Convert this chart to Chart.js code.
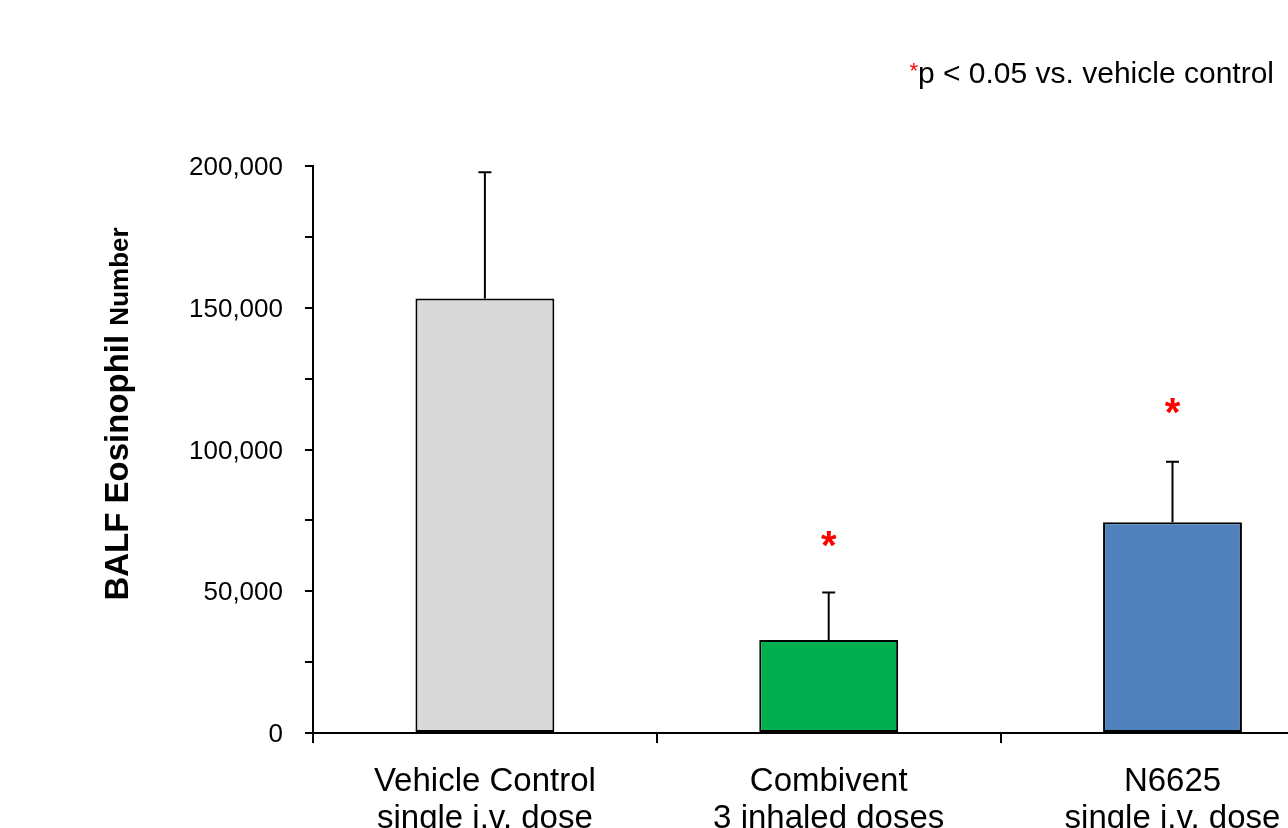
<!DOCTYPE html>
<html><head><meta charset="utf-8">
<script src="https://cdn.jsdelivr.net/npm/chart.js@4.4.1/dist/chart.umd.min.js"></script>
<style>
html,body{margin:0;padding:0;overflow:hidden;background:#fff;width:1288px;height:828px}
#wrap{position:absolute;left:0;top:0;width:1400px;height:900px}
</style></head><body>
<div id="wrap"><canvas id="c" width="1400" height="900"></canvas></div>
<script>
// ---- data ----
const categories = [["Vehicle Control","single i.v. dose"],["Combivent","3 inhaled doses"],["N6625","single i.v. dose"]];
const means = [153300, 32800, 74300];
const errUpper = [197800, 49600, 95700];
const starValues = [null, 68400, 115200];
const barColors = ['#D9D9D9','#00B050','#4F81BD'];
const yMin = 0, yMax = 200000, yStep = 25000, yLabelStep = 50000;
const yTitleMain = 'BALF Eosinophil';
const yTitleTail = 'Number';
const noteStar = '*';
const noteText = 'p < 0.05 vs. vehicle control';

const SANS = "'Liberation Sans', Arial, sans-serif";

const extras = {
  id: 'extras',
  afterDatasetsDraw(chart) {
    const ctx = chart.ctx, x = chart.scales.x, y = chart.scales.y;
    ctx.save();
    // error bars
    ctx.strokeStyle = '#000'; ctx.lineWidth = 2;
    errUpper.forEach((v, i) => {
      const cx = x.getPixelForValue(i);
      const y0 = y.getPixelForValue(means[i]);
      const y1 = y.getPixelForValue(v);
      ctx.beginPath();
      ctx.moveTo(cx, y0); ctx.lineTo(cx, y1);
      ctx.moveTo(cx - 6.5, y1); ctx.lineTo(cx + 6.5, y1);
      ctx.stroke();
    });
    // significance stars
    ctx.fillStyle = '#FF0000';
    ctx.font = 'bold 40px ' + SANS;
    ctx.textAlign = 'center'; ctx.textBaseline = 'alphabetic';
    const m = ctx.measureText('*');
    const mid = (m.actualBoundingBoxAscent - m.actualBoundingBoxDescent) / 2;
    starValues.forEach((v, i) => {
      if (v == null) return;
      ctx.fillText('*', x.getPixelForValue(i), y.getPixelForValue(v) + mid);
    });
    ctx.restore();
  },
  afterDraw(chart) {
    const ctx = chart.ctx;
    ctx.save();
    // y title
    ctx.translate(128, 414);
    ctx.rotate(-Math.PI / 2);
    ctx.fillStyle = '#000';
    ctx.textBaseline = 'alphabetic'; ctx.textAlign = 'left';
    const f1 = 'bold 33px ' + SANS, f2 = 'bold 26px ' + SANS;
    ctx.font = f1; const w1 = ctx.measureText(yTitleMain + ' ').width;
    ctx.font = f2; const w2 = ctx.measureText(yTitleTail).width;
    let sx = -(w1 + w2) / 2;
    ctx.font = f1; ctx.fillText(yTitleMain + ' ', sx, 0);
    ctx.font = f2; ctx.fillText(yTitleTail, sx + w1, 0);
    ctx.restore();
    // note
    ctx.save();
    ctx.font = '30px ' + SANS;
    ctx.fillStyle = '#000'; ctx.textAlign = 'right'; ctx.textBaseline = 'alphabetic';
    const tw = ctx.measureText(noteText).width;
    ctx.fillText(noteText, 1274, 83);
    ctx.fillStyle = '#FF0000';
    ctx.font = '22px ' + SANS;
    ctx.fillText(noteStar, 1274 - tw, 78);
    ctx.restore();
  }
};

new Chart(document.getElementById('c'), {
  type: 'bar',
  data: {
    labels: categories,
    datasets: [{
      data: means,
      backgroundColor: barColors,
      borderColor: '#000',
      borderWidth: 2,
      borderSkipped: false,
      barPercentage: 0.404,
      categoryPercentage: 1
    }]
  },
  options: {
    responsive: false,
    animation: false,
    layout: { padding: { top: 166, right: 55.6, left: 0, bottom: 0 } },
    plugins: { legend: { display: false }, tooltip: { enabled: false } },
    scales: {
      x: {
        offset: true,
        grid: { offset: true, drawOnChartArea: false, drawTicks: true, tickLength: 10, color: '#000', lineWidth: 2 },
        border: { display: true, color: '#000', width: 2 },
        ticks: { color: '#000', padding: 20, maxRotation: 0, autoSkip: false,
                 font: { family: SANS, size: 33, lineHeight: 1.13 } },
        afterFit(s) { s.height = 167; }
      },
      y: {
        min: yMin, max: yMax,
        grid: { drawOnChartArea: false, drawTicks: true, tickLength: 8, color: '#000', lineWidth: 2 },
        border: { display: true, color: '#000', width: 2 },
        ticks: { stepSize: yStep, color: '#000', padding: 22, labelOffset: 2,
                 font: { family: SANS, size: 26 },
                 callback: (v) => (v % yLabelStep === 0 ? v.toLocaleString('en-US') : '') },
        afterFit(s) { s.width = 313; }
      }
    }
  },
  plugins: [extras]
});
</script>
</body></html>
